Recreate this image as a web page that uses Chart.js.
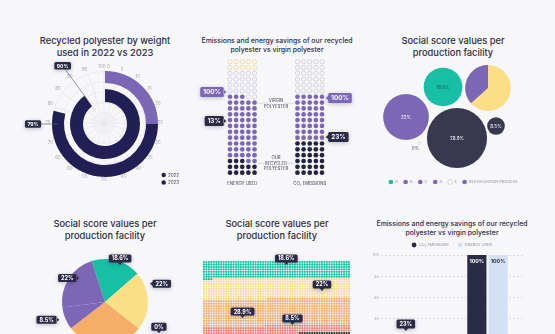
<!DOCTYPE html>
<html><head><meta charset="utf-8">
<script src="https://cdn.jsdelivr.net/npm/chart.js@4.4.1/dist/chart.umd.min.js"></script>
<style>
html,body{margin:0;padding:0;}
body{width:555px;height:334px;overflow:hidden;background:#f7f7f9;position:relative;font-family:Inter,'Noto Sans',sans-serif;}
canvas{position:absolute;}
.title{position:absolute;transform:translateX(-50%);text-align:center;white-space:nowrap;color:#2d2c45;font-weight:500;}
.big{font-size:9.3px;line-height:12px;}
.small{font-size:6.9px;line-height:9px;}
</style></head><body>
<div class="title big" style="left:105px;top:35px">Recycled polyester by weight<br>used in 2022 vs 2023</div>
<div class="title small" style="left:277px;top:35.5px">Emissions and energy savings of our recycled<br>polyester vs virgin polyester</div>
<div class="title big" style="left:453px;top:35px">Social score values per<br>production facility</div>
<div class="title big" style="left:105px;top:218px">Social score values per<br>production facility</div>
<div class="title big" style="left:277px;top:218px">Social score values per<br>production facility</div>
<div class="title small" style="left:452px;top:218.5px">Emissions and energy savings of our recycled<br>polyester vs virgin polyester</div>
<canvas id="c1g" width="185" height="195" style="left:0;top:0"></canvas>
<canvas id="c1" width="185" height="195" style="left:0;top:0"></canvas>
<canvas id="c2" width="185" height="195" style="left:185px;top:0"></canvas>
<canvas id="c3" width="170" height="140" style="left:368px;top:55px"></canvas>
<canvas id="c4" width="170" height="184" style="left:20px;top:210px"></canvas>
<canvas id="c5" width="175" height="180" style="left:190px;top:195px"></canvas>
<canvas id="c6" width="185" height="175" style="left:370px;top:195px"></canvas>
<script>
// ---------------- DATA ----------------
// Panel 1: recycled polyester by weight (radial bars)
const polarSeries = ['2022', '2023'];
const polarValues = [79, 90];          // outer ring, inner ring
const polarHighlight = 25;             // highlighted start of the outer ring
const angleTicks = ['100 0','5','10','15','20','25','30','35','40','45','50','55','60','65','70','75','80','85','90','95'];

// Panel 2: dot columns (counts of dots, filled from the bottom)
const waffleColumns = ['ENERGY USED', 'CO\u2082 EMISSIONS'];
const energyDots = [13, 55, 22, 10];   // recycled, virgin, empty, empty (top)
const co2Dots = [30, 40, 30];          // recycled, virgin, empty
const dotCallouts = ['100%', '13%', '100%', '23%'];

// Panel 3: bubbles
const bubbleLabels = ['18.6%', '22%', '22%', '28.9%', '8.5%', '0%'];
const bubbleValues = [18.6, 22, 22, 28.9, 8.5, 0];
const bubbleX = [75, 38, 120, 89, 128, 51];   // packed layout position (layout units)
const bubbleY = [32, 62, 33, 83, 71, 88];
const bubbleLegend = ['A', 'B', 'C', 'D', 'E', 'IN EVALUATION PROCESS'];

// Panel 4: pie
const pieLabels = ['18.6%', '22%', '0%', '28.9%', '8.5%', '22%'];
const pieValues = [18.6, 22, 0, 28.9, 8.5, 22];

// Panel 5: dot grid
const gridShares = [18.6, 22, 28.9, 8.5, 22];
const gridLabels = ['18.6%', '22%', '28.9%', '8.5%'];

// Panel 6: bars
const barCategories = ['Our recycled polyester', 'Virgin polyester'];
const co2Values = [23, 100];
const energyValues = [13, 100];
const barTicks = [0, 20, 40, 60, 80, 100];

// ---------------- STYLE ----------------
const PURPLE = '#7c67b6', NAVYP = '#221f57', SLATE = '#383851', DOTNAVY = '#25243f',
      TEAL = '#17bfa4', YELLOW = '#fbdf86', ORANGE = '#f6ad6a', SALMON = '#ef8063',
      LBLUE = '#d2e2f4', CALL = '#2c2b46', TXT = '#2d2c45';

Chart.defaults.font.family = 'Inter';
Chart.defaults.animation = false;
Chart.defaults.responsive = false;
Chart.defaults.devicePixelRatio = 1;
Chart.defaults.events = [];
Chart.defaults.layout.autoPadding = false;
Chart.defaults.plugins.legend.display = false;
Chart.defaults.plugins.tooltip.enabled = false;

function rrect(ctx, x, y, w, h, r) {
  ctx.moveTo(x + r, y); ctx.lineTo(x + w - r, y); ctx.quadraticCurveTo(x + w, y, x + w, y + r);
  ctx.lineTo(x + w, y + h - r); ctx.quadraticCurveTo(x + w, y + h, x + w - r, y + h);
  ctx.lineTo(x + r, y + h); ctx.quadraticCurveTo(x, y + h, x, y + h - r);
  ctx.lineTo(x, y + r); ctx.quadraticCurveTo(x, y, x + r, y); ctx.closePath();
}
function callout(ctx, text, tx, ty, dir, o) {
  o = Object.assign({bg: CALL, fg: '#fff', size: 5.5, h: 8, pad: 3, gap: 2.5}, o || {});
  ctx.save();
  ctx.font = `bold ${o.size}px Inter`;
  const w = ctx.measureText(text).width + o.pad * 2, h = o.h, p = o.gap;
  let bx, by;
  if (dir === 'down') { bx = tx - w / 2; by = ty - p - h; }
  else if (dir === 'left') { bx = tx + p; by = ty - h / 2; }
  else if (dir === 'right') { bx = tx - p - w; by = ty - h / 2; }
  else { bx = tx - w / 2; by = ty - h / 2; }
  ctx.shadowColor = 'rgba(20,20,50,0.28)'; ctx.shadowBlur = 4; ctx.shadowOffsetY = 1;
  ctx.fillStyle = o.bg;
  ctx.beginPath(); rrect(ctx, bx, by, w, h, 1.5);
  if (dir === 'down') { ctx.moveTo(tx - p, by + h - 0.5); ctx.lineTo(tx + p, by + h - 0.5); ctx.lineTo(tx, ty); ctx.closePath(); }
  if (dir === 'left') { ctx.moveTo(bx + 0.5, ty - p); ctx.lineTo(bx + 0.5, ty + p); ctx.lineTo(tx, ty); ctx.closePath(); }
  if (dir === 'right') { ctx.moveTo(bx + w - 0.5, ty - p); ctx.lineTo(bx + w - 0.5, ty + p); ctx.lineTo(tx, ty); ctx.closePath(); }
  ctx.fill();
  ctx.shadowColor = 'transparent';
  ctx.fillStyle = o.fg; ctx.textAlign = 'center'; ctx.textBaseline = 'middle';
  ctx.fillText(text, bx + w / 2, by + h / 2 + 0.3);
  ctx.restore();
  return {x: bx, y: by, w, h};
}
function legend(ctx, items, cx, y, o) {
  ctx.save();
  ctx.font = `${o.size}px Inter`;
  ctx.textBaseline = 'middle';
  const ws = items.map(it => o.r * 2 + o.gapDot + ctx.measureText(it.text).width);
  const total = ws.reduce((a, b) => a + b, 0) + o.gapItem * (items.length - 1);
  let x = o.left != null ? o.left : cx - total / 2;
  items.forEach((it, i) => {
    ctx.beginPath(); ctx.arc(x + o.r, y, o.r, 0, Math.PI * 2);
    if (it.outline) { ctx.fillStyle = '#fff'; ctx.fill(); ctx.strokeStyle = '#b9b9c4'; ctx.lineWidth = 0.6; ctx.stroke(); }
    else { ctx.fillStyle = it.color; ctx.fill(); }
    ctx.fillStyle = o.color; ctx.textAlign = 'left';
    ctx.fillText(it.text, x + o.r * 2 + o.gapDot, y + 0.3);
    if (o.vertical) { y += o.vstep; } else { x += ws[i] + o.gapItem; }
  });
  ctx.restore();
}

// ---------------- PANEL 1 ----------------
new Chart('c1g', {
  type: 'radar',
  data: {labels: angleTicks, datasets: []},
  options: {
    layout: {padding: {left: 46, right: 21, top: 65, bottom: 12}},
    scales: {r: {min: 0, max: 5, ticks: {display: false, stepSize: 1},
      grid: {circular: true, color: '#e1e1e7', lineWidth: 0.6},
      angleLines: {color: '#e1e1e7', lineWidth: 0.6},
      pointLabels: {font: {size: 4.5}, color: '#a6a6b1', padding: 2}}}
  }
});
new Chart('c1', {
  type: 'doughnut',
  data: {labels: ['h', 'v', 'r'], datasets: [
    {data: [polarHighlight, polarValues[0] - polarHighlight, 100 - polarValues[0]], backgroundColor: [PURPLE, NAVYP, 'rgba(0,0,0,0)'], borderWidth: 0, weight: 12},
    {data: [100], backgroundColor: ['rgba(0,0,0,0)'], borderWidth: 0, weight: 6},
    {data: [polarValues[1], 100 - polarValues[1]], backgroundColor: [NAVYP, 'rgba(0,0,0,0)'], borderWidth: 0, weight: 13}
  ]},
  options: {radius: 53, cutout: '41.5%', layout: {padding: {left: 25, top: 53}}},
  plugins: [{id: 'p1', afterDraw(chart) {
    const ctx = chart.ctx;
    // 2023 (inner ring) callout along the end angle
    const inner = chart.getDatasetMeta(2).data[0];
    let a = inner.endAngle, rm = (inner.innerRadius + inner.outerRadius) / 2;
    let tip = {x: inner.x + Math.cos(a) * rm, y: inner.y + Math.sin(a) * rm};
    let bc = {x: inner.x + Math.cos(a) * 72, y: inner.y + Math.sin(a) * 72};
    ctx.save(); ctx.strokeStyle = '#5a5a70'; ctx.lineWidth = 0.6;
    ctx.beginPath(); ctx.moveTo(tip.x, tip.y); ctx.lineTo(bc.x, bc.y); ctx.stroke(); ctx.restore();
    callout(ctx, polarValues[1] + '%', bc.x, bc.y, 'none', {size: 5, h: 7.5, pad: 2.5});
    // 2022 (outer ring) callout, horizontal leader at the ring's left side
    const outer = chart.getDatasetMeta(0).data[1];
    tip = {x: outer.x - outer.innerRadius - 6, y: outer.y};
    bc = {x: outer.x - 72, y: outer.y};
    ctx.save(); ctx.strokeStyle = '#5a5a70'; ctx.lineWidth = 0.6;
    ctx.beginPath(); ctx.moveTo(tip.x, tip.y); ctx.lineTo(bc.x, bc.y); ctx.stroke(); ctx.restore();
    callout(ctx, polarValues[0] + '%', bc.x, bc.y, 'none', {size: 5, h: 7.5, pad: 2.5});
    legend(ctx, polarSeries.map(s => ({text: s, color: NAVYP})), 0, 175,
      {size: 4.5, r: 2.2, gapDot: 2, gapItem: 0, color: '#3a3a50', left: 161.5, vertical: true, vstep: 7.5});
  }}]
});

// ---------------- PANEL 2 ----------------
function dotSets(counts, styles, x0) {
  let k = 0;
  return counts.map((n, ci) => {
    const pts = [];
    for (let i = 0; i < n; i++, k++) pts.push({x: x0 + (k % 5), y: Math.floor(k / 5)});
    const s = styles[ci];
    return {data: pts, pointRadius: s.outline ? 2.15 : 2.35, pointBackgroundColor: s.outline ? '#f7f7f9' : s.color,
      pointBorderColor: s.color, pointBorderWidth: s.outline ? 0.8 : 0, clip: false};
  });
}
const energyStyles = [{color: DOTNAVY}, {color: PURPLE}, {color: '#cbc5e2', outline: true}, {color: '#f0d58e', outline: true}];
const co2Styles = [{color: DOTNAVY}, {color: PURPLE}, {color: '#c9c9d2', outline: true}];
new Chart('c2', {
  type: 'scatter',
  data: {datasets: [...dotSets(energyDots, energyStyles, 0), ...dotSets(co2Dots, co2Styles, 11)]},
  options: {
    layout: {padding: {left: 45, right: 48, top: 61.7, bottom: 22.3}},
    scales: {x: {display: false, min: 0, max: 15}, y: {display: false, min: 0, max: 19}}
  },
  plugins: [{id: 'p2', afterDraw(chart) {
    const ctx = chart.ctx, X = v => chart.scales.x.getPixelForValue(v), Y = v => chart.scales.y.getPixelForValue(v);
    ctx.save();
    ctx.fillStyle = '#3a3a50'; ctx.textAlign = 'center'; ctx.textBaseline = 'middle';
    ctx.font = '4.3px Inter';
    ctx.fillText('VIRGIN', X(7.5), Y(12.35)); ctx.fillText('POLYESTER', X(7.5), Y(11.35));
    ctx.fillText('OUR', X(7.5), Y(2.5)); ctx.fillText('RECYCLED', X(7.5), Y(1.6)); ctx.fillText('POLYESTER', X(7.5), Y(0.7));
    ctx.fillText(waffleColumns[0], X(2), Y(-1.8)); ctx.fillText(waffleColumns[1], X(13), Y(-1.8));
    ctx.strokeStyle = '#c8c8d2'; ctx.lineWidth = 0.6;
    [[11.9], [1.6]].forEach(([yy]) => {
      ctx.beginPath(); ctx.moveTo(X(4.45), Y(yy)); ctx.lineTo(X(6.2), Y(yy));
      ctx.moveTo(X(8.8), Y(yy)); ctx.lineTo(X(10.55), Y(yy)); ctx.stroke();
    });
    ctx.restore();
    const opt = {size: 6.3, h: 10, pad: 3};
    callout(ctx, dotCallouts[0], X(-0.6), Y(13.8), 'right', Object.assign({bg: PURPLE}, opt));
    callout(ctx, dotCallouts[1], X(-0.6), Y(8.85), 'right', opt);
    callout(ctx, dotCallouts[2], X(15.6), Y(12.8), 'left', Object.assign({bg: PURPLE}, opt));
    callout(ctx, dotCallouts[3], X(15.6), Y(6.1), 'left', opt);
  }}]
});

// ---------------- PANEL 3 ----------------
const bubbleColors = [TEAL, PURPLE, YELLOW, SLATE, SLATE, '#ffffff'];
new Chart('c3', {
  type: 'bubble',
  data: {datasets: [{
    data: bubbleValues.map((v, i) => ({x: bubbleX[i], y: bubbleY[i], r: Math.max(1.4, v * 1.04)})),
    backgroundColor: bubbleColors, borderColor: bubbleColors.map(c => c === '#ffffff' ? '#c2c2cc' : c),
    borderWidth: bubbleColors.map(c => c === '#ffffff' ? 0.5 : 0), clip: false
  }]},
  options: {scales: {x: {display: false, min: 0, max: 170}, y: {display: false, min: 0, max: 140, reverse: true}}},
  plugins: [{id: 'p3', afterDatasetsDraw(chart) {
    const ctx = chart.ctx, pts = chart.getDatasetMeta(0).data;
    const b = pts[2];
    ctx.save(); ctx.fillStyle = PURPLE; ctx.beginPath(); ctx.moveTo(b.x, b.y);
    ctx.arc(b.x, b.y, b.options.radius, 138 * Math.PI / 180, 270 * Math.PI / 180); ctx.closePath(); ctx.fill();
    ctx.font = '4.6px Inter'; ctx.textAlign = 'center'; ctx.textBaseline = 'middle';
    pts.forEach((p, i) => {
      if (i === 2) return;
      if (i === 5) { ctx.fillStyle = '#55556a'; ctx.fillText(bubbleLabels[i], p.x - 3.5, p.y + 6); return; }
      ctx.fillStyle = i === 0 ? '#1f5c53' : '#ffffff';
      ctx.fillText(bubbleLabels[i], p.x, p.y + 0.3);
    });
    ctx.restore();
    const lc = [TEAL, PURPLE, PURPLE, PURPLE, null, PURPLE];
    legend(ctx, bubbleLegend.map((t, i) => ({text: t, color: lc[i], outline: !lc[i]})), 85, 127,
      {size: 3.9, r: 2.3, gapDot: 2, gapItem: 5.5, color: '#8c8c9c'});
  }}]
});

// ---------------- PANEL 4 ----------------
const pieColors = [TEAL, YELLOW, '#ffffff', ORANGE, PURPLE, PURPLE];
const pieCall = [ {i: 0, t: 0.6, f: 0.93, dir: 'down'}, {i: 1, t: 0.24, f: 1.13, dir: 'left'},
  {i: 2, t: 0, f: 1.45, da: -8, dir: 'down'}, {i: 4, t: 0.54, f: 1.14, dir: 'right'}, {i: 5, t: 0.63, f: 0.82, dir: 'right'} ];
new Chart('c4', {
  type: 'pie',
  data: {labels: pieLabels, datasets: [{data: pieValues, backgroundColor: pieColors, borderWidth: 0}]},
  options: {radius: 43, rotation: -18},
  plugins: [{id: 'p4', afterDraw(chart) {
    const ctx = chart.ctx, arcs = chart.getDatasetMeta(0).data;
    pieCall.forEach(c => {
      const a = arcs[c.i];
      const ang = a.startAngle + (a.endAngle - a.startAngle) * c.t + (c.da || 0) * Math.PI / 180;
      const r = a.outerRadius * c.f;
      callout(ctx, pieLabels[c.i], a.x + Math.cos(ang) * r, a.y + Math.sin(ang) * r, c.dir);
    });
  }}]
});

// ---------------- PANEL 5 ----------------
const GRID_COLS = 60, GRID_ROWS = 38;
const gridColors = [TEAL, YELLOW, ORANGE, SALMON, DOTNAVY];
(function () {
  const total = GRID_COLS * GRID_ROWS;
  let k = 0;
  const sets = gridShares.map((s, ci) => {
    const n = Math.round(s / 100 * total), pts = [];
    for (let i = 0; i < n && k < total; i++, k++) pts.push({x: k % GRID_COLS, y: Math.floor(k / GRID_COLS)});
    return {data: pts, pointRadius: 1.1, pointBackgroundColor: gridColors[ci], pointBorderWidth: 0, clip: false};
  });
  const anchors = [[33.5, 1.2], [48, 11.8], [15.7, 22.9], [36, 25.7]];
  new Chart('c5', {
    type: 'scatter',
    data: {datasets: sets},
    options: {layout: {padding: {left: 14, right: 16, top: 67, bottom: 22.35}},
      scales: {x: {display: false, min: 0, max: GRID_COLS - 1}, y: {display: false, min: 0, max: GRID_ROWS - 1, reverse: true}}},
    plugins: [{id: 'p5', afterDraw(chart) {
      const X = v => chart.scales.x.getPixelForValue(v), Y = v => chart.scales.y.getPixelForValue(v);
      gridLabels.forEach((t, i) => callout(chart.ctx, t, X(anchors[i][0]), Y(anchors[i][1]), 'down'));
    }}]
  });
})();

// ---------------- PANEL 6 ----------------
new Chart('c6', {
  type: 'bar',
  data: {labels: barCategories, datasets: [
    {label: 'CO\u2082 EMISSIONS', data: co2Values, backgroundColor: '#2a2c46', categoryPercentage: 0.6, barPercentage: 0.9},
    {label: 'ENERGY USED', data: energyValues, backgroundColor: LBLUE, categoryPercentage: 0.6, barPercentage: 0.9}
  ]},
  options: {
    layout: {padding: {left: 0, right: 32, top: 60, bottom: 8.5}},
    scales: {
      x: {display: false},
      y: {min: 0, max: 100, afterFit(s) { s.width = 11; },
        afterBuildTicks(s) { s.ticks = barTicks.map(v => ({value: v})); },
        ticks: {font: {size: 4}, color: '#a9a9b4', padding: 2},
        grid: {color: '#cdcdd6', lineWidth: 0.7, drawTicks: false},
        border: {display: false, dash: [2, 2]}}
    }
  },
  plugins: [{id: 'p6', afterDraw(chart) {
    const ctx = chart.ctx, m0 = chart.getDatasetMeta(0).data, m1 = chart.getDatasetMeta(1).data;
    ctx.save(); ctx.font = 'bold 5.3px Inter'; ctx.textAlign = 'center'; ctx.textBaseline = 'middle';
    ctx.fillStyle = '#ffffff'; ctx.fillText(co2Values[1] + '%', m0[1].x, m0[1].y + 6);
    ctx.fillStyle = '#2a2c46'; ctx.fillText(energyValues[1] + '%', m1[1].x, m1[1].y + 6);
    ctx.restore();
    callout(ctx, co2Values[0] + '%', m0[0].x, m0[0].y - 6, 'down', {h: 9});
    legend(ctx, chart.data.datasets.map(d => ({text: d.label, color: d.backgroundColor})), 82, 50,
      {size: 3.9, r: 2.4, gapDot: 2.5, gapItem: 9, color: '#8c8c9c'});
  }}]
});
</script>
</body></html>
